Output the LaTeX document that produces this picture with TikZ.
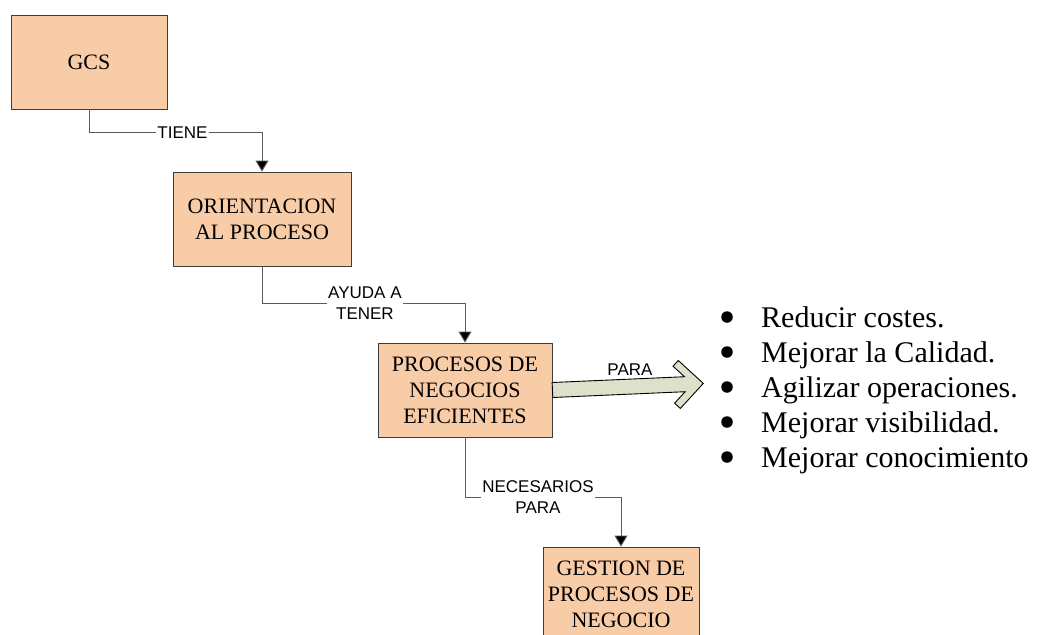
\documentclass[tikz,border=0pt]{standalone}
\usepackage{fontspec}
\setmainfont{Liberation Serif}
\setsansfont{Liberation Sans}
\usetikzlibrary{arrows.meta}

\definecolor{boxfill}{HTML}{F9CCA8}
\definecolor{boxline}{HTML}{3C3C3C}
\definecolor{arrowfill}{HTML}{DCE1C9}
\definecolor{linegray}{HTML}{5A5A5A}

\tikzset{
  stepbox/.style={draw=boxline, line width=0.9pt, fill=boxfill, inner sep=0pt,
    align=center, font=\fontsize{22}{26}\selectfont},
  conn/.style={draw=linegray, line width=0.9pt,
    -{Triangle[width=13pt,length=11pt,fill=black]}},
  lbl/.style={fill=white, inner sep=1.5pt, align=center,
    font=\sffamily\fontsize{17}{21}\selectfont},
  bigarrow/.style={draw=black, line width=0.9pt, fill=arrowfill, line join=miter},
  bullettxt/.style={anchor=base west, inner sep=0pt,
    font=\fontsize{30}{35}\selectfont},
  dot/.style={circle, fill=black, inner sep=0pt, minimum size=11.5pt},
}

\begin{document}
\begin{tikzpicture}[x=1pt, y=-1pt]
\useasboundingbox (0,0) rectangle (1037,635);

% process boxes
\node[stepbox, minimum width=156pt, minimum height=94pt] (gcs)  at (89,62)  {GCS};
\node[stepbox, minimum width=178pt, minimum height=94pt] (ori)  at (262,219) {ORIENTACION\\AL PROCESO};
\node[stepbox, minimum width=174pt, minimum height=94pt] (proc) at (465,390) {PROCESOS DE\\NEGOCIOS\\EFICIENTES};
\node[stepbox, minimum width=156pt, minimum height=94pt] (gest) at (621,594) {GESTION DE\\PROCESOS DE\\NEGOCIO};

% elbow connectors
\draw[conn] (gcs.south) -- ++(0,23) coordinate (c1)
  -- (c1 -| ori.north) node[lbl, pos=0.54] {TIENE} -- (ori.north);
\draw[conn] (ori.south) -- ++(0,37) coordinate (c2)
  -- (c2 -| proc.north) node[lbl, pos=0.507] {AYUDA A\\TENER} -- (proc.north);
\draw[conn] (proc.south) -- ++(0,60) coordinate (c3)
  -- (c3 -| gest.north) node[lbl, pos=0.468] {NECESARIOS\\PARA} -- (gest.north);

% broad open-headed arrow
\begin{scope}[shift={(proc.east)}, rotate=2.5]
  \path[bigarrow]
    (0,-7.5) -- (132.5,-7.5) -- (121.5,-18.5) -- (127,-24) -- (151,0)
    -- (127,24) -- (121.5,18.5) -- (132.5,7.5) -- (0,7.5) -- cycle;
\end{scope}
\node[font=\sffamily\fontsize{17}{21}\selectfont, inner sep=0pt] (para) at (630,370) {PARA};

% list of goals
\foreach \i/\y/\t in {1/327/{Reducir costes.},
                      2/362/{Mejorar la Calidad.},
                      3/397/{Agilizar operaciones.},
                      4/432/{Mejorar visibilidad.},
                      5/467/{Mejorar conocimiento}} {
  \node[dot] (b\i) at (727,\y-10) {};
  \node[bullettxt] (g\i) at (761,\y) {\t};
}
\end{tikzpicture}
\end{document}
